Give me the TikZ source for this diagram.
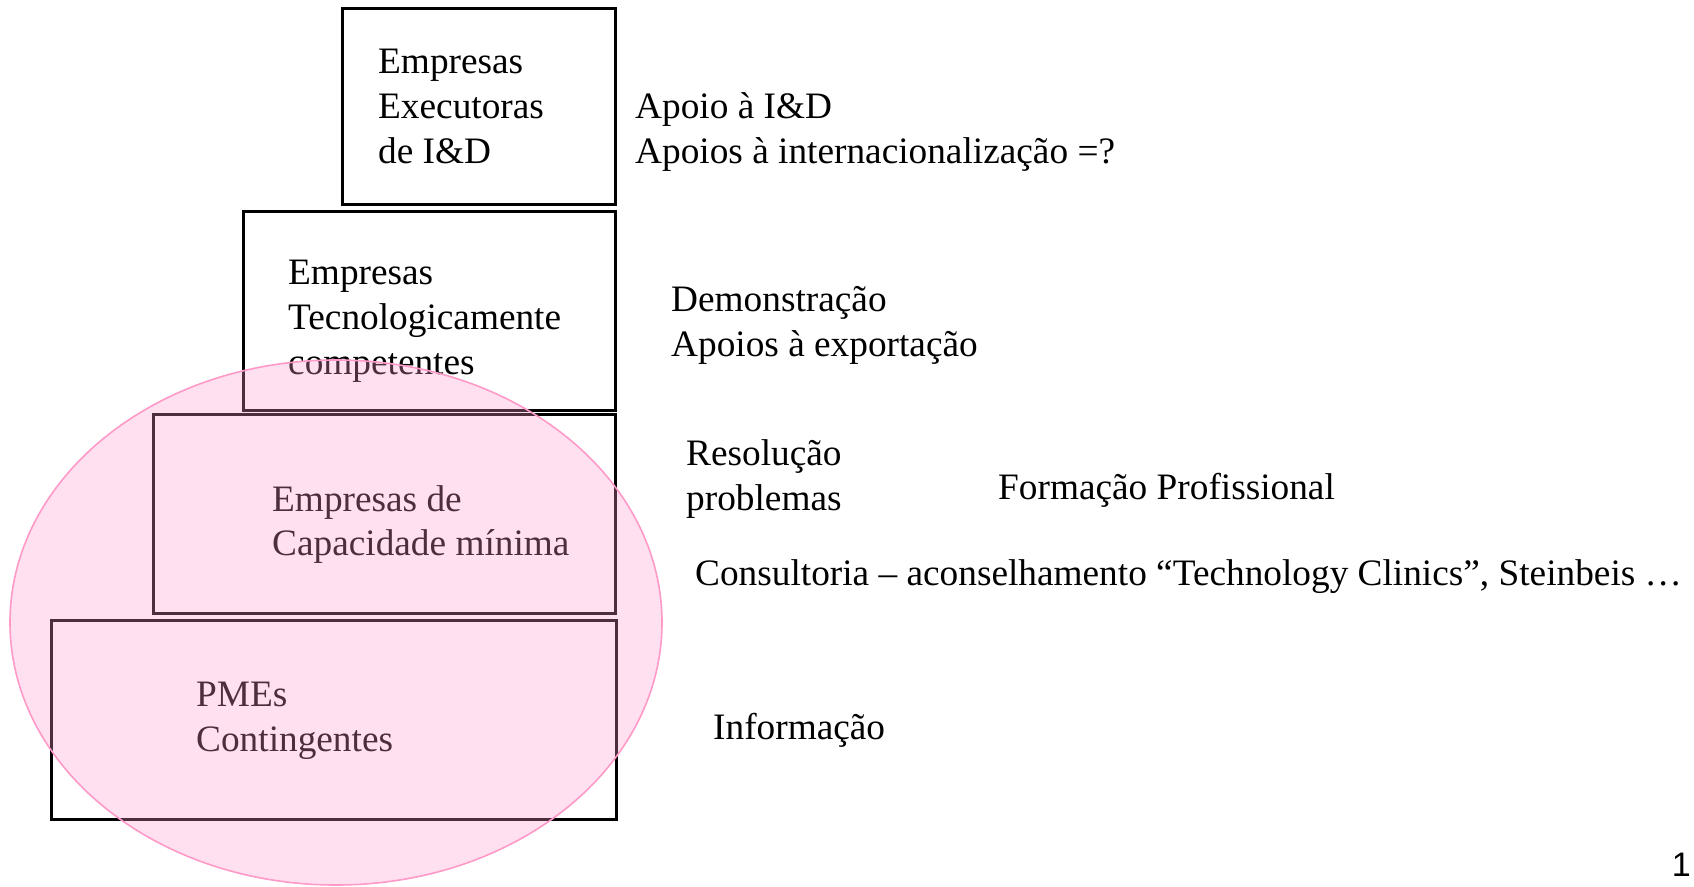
\documentclass[tikz,border=0pt]{standalone}
\usepackage{fontspec}
\setmainfont{Liberation Serif}
\newfontfamily\pagenumfont{Liberation Sans}
\begin{document}
\begin{tikzpicture}[x=1pt,y=-1pt,
  tier/.style={draw=black,line width=3pt},
  txt/.style={anchor=base west,inner sep=0pt,font=\fontsize{37.3}{45}\selectfont},
  blob/.style={draw=pinkline,line width=1.6pt,fill=pinkfill,fill opacity=0.3}]
\definecolor{pinkfill}{HTML}{FF99CC}
\definecolor{pinkline}{HTML}{FF99C8}
\useasboundingbox (0,0) rectangle (1694,886);
% tiers
\draw[tier] (342,8) rectangle (615,204);
\draw[tier] (243,211) rectangle (615,410);
\draw[tier] (153,414) rectangle (615,613);
\draw[tier] (51,620) rectangle (616,819);
% tier texts
\node[txt] (a1) at (378,73) {Empresas};
\node[txt] (a2) at (378,118) {Executoras};
\node[txt] (a3) at (378,163) {de I\&D};
\node[txt] (b1) at (288,284) {Empresas};
\node[txt] (b2) at (288,329) {Tecnologicamente};
\node[txt] (b3) at (288,374) {competentes};
\node[txt] (c1) at (272,511) {Empresas de};
\node[txt] (c2) at (272,555) {Capacidade mínima};
\node[txt] (d1) at (196,706) {PMEs};
\node[txt] (d2) at (196,751) {Contingentes};
% ellipse
\draw[blob] (336,622.5) ellipse [x radius=326pt, y radius=262.5pt];
% right texts
\node[txt] (r1) at (635,118) {Apoio à I\&D};
\node[txt] (r2) at (635,163) {Apoios à internacionalização =?};
\node[txt] (r3) at (671,311) {Demonstração};
\node[txt] (r4) at (671,356) {Apoios à exportação};
\node[txt] (r5) at (686,465) {Resolução};
\node[txt] (r6) at (686,510) {problemas};
\node[txt] (r7) at (998,499) {Formação Profissional};
\node[txt] (r8) at (695,585) {Consultoria – aconselhamento “Technology Clinics”, Steinbeis …};
\node[txt] (r9) at (713,739) {Informação};
\node[anchor=base east,inner sep=0pt,font=\pagenumfont\fontsize{34}{40}\selectfont] (pg) at (1691,876) {1};
\end{tikzpicture}
\end{document}
